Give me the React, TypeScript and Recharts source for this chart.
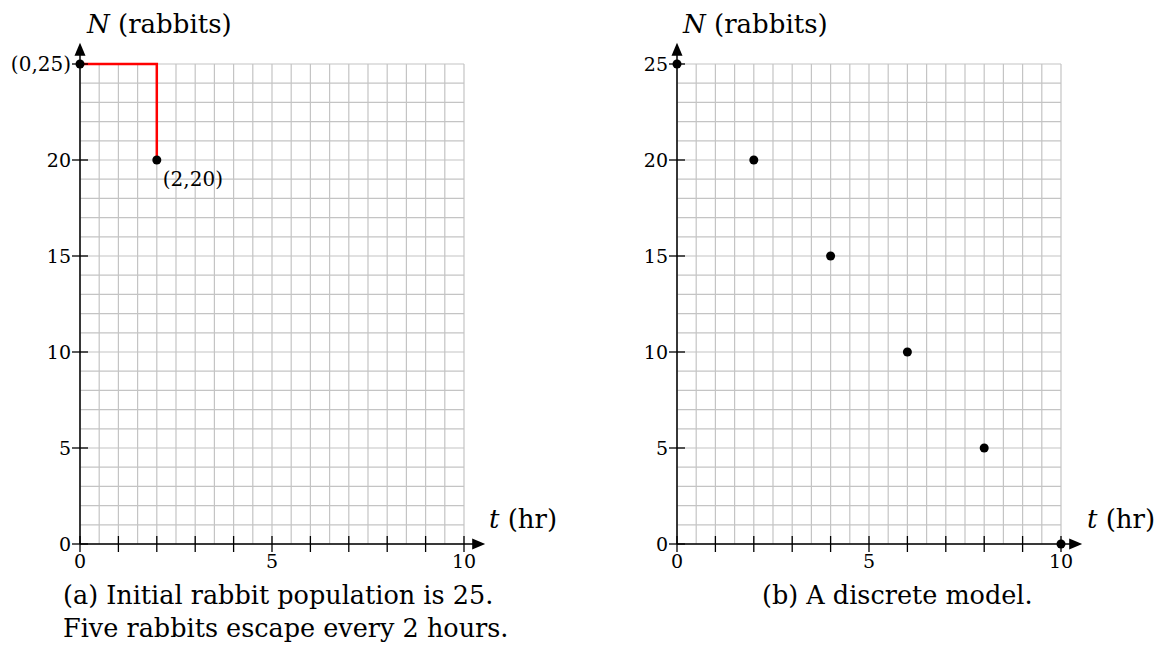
import { ComposedChart, XAxis, YAxis, CartesianGrid, Line, Scatter, ReferenceLine, ReferenceDot } from "recharts"

// grid every half hour / every rabbit, marks every hour, labels every 5
const tTicks = [0, 0.5, 1, 1.5, 2, 2.5, 3, 3.5, 4, 4.5, 5, 5.5, 6, 6.5, 7, 7.5, 8, 8.5, 9, 9.5, 10]
const nTicks = [0, 1, 2, 3, 4, 5, 6, 7, 8, 9, 10, 11, 12, 13, 14, 15, 16, 17, 18, 19, 20, 21, 22, 23, 24, 25]
const tMarks = [0, 1, 2, 3, 4, 5, 6, 7, 8, 9, 10]
const tLabels = [0, 5, 10]
const nLabels = [0, 5, 10, 15, 20, 25]

// (a) step: 25 rabbits, 5 escape after 2 hours
const stepT = [0, 2]
const stepN = [25, 20]
const pointLabels = ["(0,25)", "(2,20)"]

// (b) discrete model
const discreteT = [0, 2, 4, 6, 8, 10]
const discreteN = [25, 20, 15, 10, 5, 0]

const serif = "'DejaVu Serif', serif"
const W = 580
const H = 652
const margin = { top: 64, right: 116, left: 20, bottom: 78 }

function XTick(props: any) {
  const { x, y, payload } = props
  const v = payload.value
  if (!tMarks.includes(v)) return <g />
  return (
    <g>
      <line x1={x} y1={y - 8} x2={x} y2={y + 8} stroke="#000" strokeWidth={1.3} />
      {tLabels.includes(v) && (
        <text x={x} y={y + 24} textAnchor="middle" fontFamily={serif} fontSize={19} fill="#000">
          {v}
        </text>
      )}
    </g>
  )
}

function makeYTick(hide: number[]) {
  return (props: any) => {
    const { x, y, payload } = props
    const v = payload.value
    if (!nLabels.includes(v)) return <g />
    return (
      <g>
        <line x1={x - 8} y1={y} x2={x + 8} y2={y} stroke="#000" strokeWidth={1.3} />
        {!hide.includes(v) && (
          <text x={x - 9} y={y + 7} textAnchor="end" fontFamily={serif} fontSize={19} fill="#000">
            {v}
          </text>
        )}
      </g>
    )
  }
}

function Dot(props: any) {
  const { cx, cy, payload } = props
  const lbl = payload.label
  return (
    <g>
      <circle cx={cx} cy={cy} r={4.5} fill="#000" />
      {lbl && payload.idx === 0 && (
        <text x={cx - 9} y={cy + 7} textAnchor="end" fontFamily={serif} fontSize={20} fill="#000">
          {lbl}
        </text>
      )}
      {lbl && payload.idx === 1 && (
        <text x={cx + 6} y={cy + 26} textAnchor="start" fontFamily={serif} fontSize={20} fill="#000">
          {lbl}
        </text>
      )}
    </g>
  )
}

const arrowRight = (p: any) => <path d={`M${p.cx + 2},${p.cy} l-13,-5.5 l0,11 z`} fill="#000" />
const arrowUp = (p: any) => <path d={`M${p.cx},${p.cy - 2} l-5.5,13 l11,0 z`} fill="#000" />

function Frame({ children, hide }: { children?: any; hide: number[] }) {
  return (
    <ComposedChart width={W} height={H} margin={margin}>
      <CartesianGrid stroke="#c4c4c4" strokeWidth={1.2} />
      <XAxis
        type="number"
        dataKey="t"
        domain={[0, 10]}
        ticks={tTicks}
        interval={0}
        height={30}
        tickSize={0}
        tickMargin={0}
        axisLine={false}
        tickLine={false}
        tick={<XTick />}
      />
      <YAxis
        type="number"
        dataKey="n"
        domain={[0, 25]}
        ticks={nTicks}
        interval={0}
        width={60}
        tickSize={0}
        tickMargin={0}
        axisLine={false}
        tickLine={false}
        tick={makeYTick(hide)}
      />
      <ReferenceLine segment={[{ x: 0, y: 0 }, { x: 10.5, y: 0 }]} stroke="#000" strokeWidth={1.5} ifOverflow="visible" />
      <ReferenceLine segment={[{ x: 0, y: 0 }, { x: 0, y: 26 }]} stroke="#000" strokeWidth={1.5} ifOverflow="visible" />
      <ReferenceDot x={10.5} y={0} r={5} ifOverflow="visible" shape={arrowRight} />
      <ReferenceDot x={0} y={26} r={5} ifOverflow="visible" shape={arrowUp} />
      {children}
    </ComposedChart>
  )
}

export default function App() {
  const stepData = stepT.map((t, i) => ({ t, n: stepN[i] }))
  const leftDots = stepT.map((t, i) => ({ t, n: stepN[i], label: pointLabels[i], idx: i }))
  const discreteData = discreteT.map((t, i) => ({ t, n: discreteN[i] }))

  return (
    <div style={{ position: "absolute", left: 0, top: 0, width: 1165, height: 652, background: "#fff" }}>
      <div style={{ position: "absolute", left: 0, top: 0 }}>
        <Frame hide={[25]}>
          <Line data={stepData} dataKey="n" type="stepAfter" stroke="#ff0000" strokeWidth={2.5} dot={false} isAnimationActive={false} />
          <Scatter data={leftDots} dataKey="n" shape={<Dot />} isAnimationActive={false} />
        </Frame>
      </div>
      <div style={{ position: "absolute", left: 597, top: 0 }}>
        <Frame hide={[]}>
          <Scatter data={discreteData} dataKey="n" shape={<Dot />} isAnimationActive={false} />
        </Frame>
      </div>
      <svg width={1165} height={652} style={{ position: "absolute", left: 0, top: 0, pointerEvents: "none" }}>
        <g fontFamily={serif} fill="#000">
          <text x={87} y={33} fontSize={26}>
            <tspan fontStyle="italic">N</tspan> (rabbits)
          </text>
          <text x={683} y={33} fontSize={26}>
            <tspan fontStyle="italic">N</tspan> (rabbits)
          </text>
          <text x={489} y={528} fontSize={26}>
            <tspan fontStyle="italic">t</tspan> (hr)
          </text>
          <text x={1087} y={528} fontSize={26}>
            <tspan fontStyle="italic">t</tspan> (hr)
          </text>
          <text x={63} y={604} fontSize={25.5}>(a) Initial rabbit population is 25.</text>
          <text x={63} y={637} fontSize={25.5}>Five rabbits escape every 2 hours.</text>
          <text x={762} y={604} fontSize={25.5}>(b) A discrete model.</text>
        </g>
      </svg>
    </div>
  )
}
